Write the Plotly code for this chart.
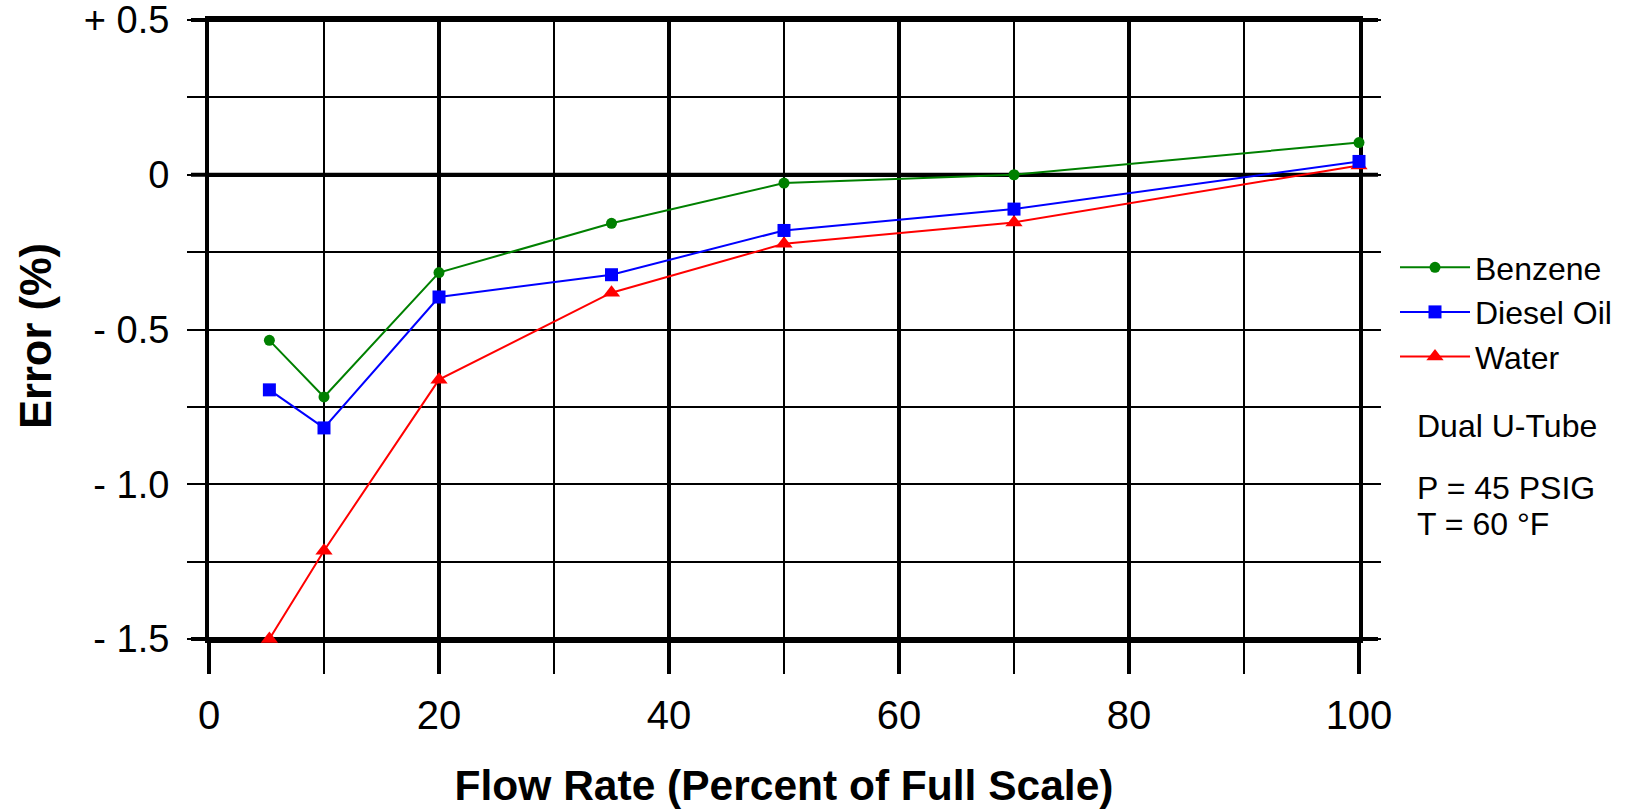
import plotly.graph_objects as go

# ---- data ----
flow = [5.25, 10, 20, 35, 50, 70, 100]
benzene = [-0.535, -0.718, -0.316, -0.157, -0.027, 0.0, 0.104]
diesel = [-0.695, -0.818, -0.395, -0.323, -0.18, -0.111, 0.043]
water = [-1.5, -1.215, -0.662, -0.381, -0.223, -0.154, 0.03]

y_tickvals = [0.5, 0, -0.5, -1.0, -1.5]
y_ticktext = ["+ 0.5", "0", "- 0.5", "- 1.0", "- 1.5"]
x_tickvals = [0, 20, 40, 60, 80, 100]
x_ticktext = ["0", "20", "40", "60", "80", "100"]

FONT = "Liberation Sans, Arial, sans-serif"

fig = go.Figure()
# drawn in reverse so that the earlier series sit on top; legend reversed
fig.add_trace(go.Scatter(x=flow, y=water, name="Water", mode="lines+markers",
                         line=dict(color="#ff0000", width=2),
                         marker=dict(symbol="triangle-up", size=15, color="#ff0000"),
                         cliponaxis=False))
fig.add_trace(go.Scatter(x=flow, y=diesel, name="Diesel Oil", mode="lines+markers",
                         line=dict(color="#0000ff", width=2),
                         marker=dict(symbol="square", size=13, color="#0000ff"),
                         cliponaxis=False))
fig.add_trace(go.Scatter(x=flow, y=benzene, name="Benzene", mode="lines+markers",
                         line=dict(color="#008000", width=2),
                         marker=dict(symbol="circle", size=11, color="#008000"),
                         cliponaxis=False))

L, R, T, B = 209, 267, 20, 170
W, H = 1626, 809
pw = W - L - R
ph = H - T - B

fig.update_layout(
    width=W, height=H,
    margin=dict(l=L, r=R, t=T, b=B, pad=0, autoexpand=False),
    paper_bgcolor="white", plot_bgcolor="white",
    font=dict(family=FONT, color="black"),
    showlegend=True,
    legend=dict(
        x=(1395 - L) / pw, y=1 - (240 - T) / ph, xanchor="left", yanchor="top",
        traceorder="reversed", font=dict(size=32, family=FONT),
        bgcolor="rgba(0,0,0,0)", itemwidth=70,
    ),
    xaxis=dict(
        range=[0, 100], tickmode="array", tickvals=x_tickvals, ticktext=x_ticktext,
        showgrid=True, gridcolor="black", gridwidth=4,
        ticks="outside", ticklen=31, tickwidth=4, tickcolor="black",
        showline=True, linecolor="black", linewidth=4, mirror=True,
        zeroline=False, tickfont=dict(size=40), ticklabelstandoff=7,
        ticklabeloverflow="allow", automargin=False, layer="below traces",
        minor=dict(dtick=10, tick0=0, showgrid=True, gridcolor="black", gridwidth=2,
                   ticks="outside", ticklen=31, tickwidth=2, tickcolor="black"),
        title=dict(text="<b>Flow Rate (Percent of Full Scale)</b>",
                   font=dict(size=42.5), standoff=35),
    ),
    xaxis2=dict(
        range=[0, 100], overlaying="x", side="top", anchor="y",
        tickmode="array", tickvals=x_tickvals, showticklabels=False,
        showgrid=False, zeroline=False, showline=False, automargin=False,
        ticks="outside", ticklen=6, tickwidth=4, tickcolor="black",
        layer="below traces",
        minor=dict(dtick=10, tick0=0, ticks="outside", ticklen=6, tickwidth=2,
                   tickcolor="black"),
    ),
    yaxis=dict(
        range=[-1.5, 0.5], tickmode="array", tickvals=y_tickvals, ticktext=y_ticktext,
        showgrid=True, gridcolor="black", gridwidth=2,
        zeroline=True, zerolinecolor="black", zerolinewidth=4,
        ticks="outside", ticklen=18, tickwidth=2, tickcolor="black",
        showline=True, linecolor="black", linewidth=4, mirror="allticks",
        tickfont=dict(size=38), ticklabelstandoff=10,
        ticklabeloverflow="allow", automargin=False, layer="below traces",
        minor=dict(dtick=0.25, tick0=0, showgrid=True, gridcolor="black", gridwidth=2,
                   ticks="outside", ticklen=18, tickwidth=2, tickcolor="black"),
    ),
)

# y-axis title placed precisely
fig.add_annotation(text="<b>Error (%)</b>", textangle=-90, xref="paper", yref="paper",
                   x=(36 - L) / pw, y=1 - (336 - T) / ph, xanchor="center",
                   yanchor="middle", showarrow=False,
                   font=dict(size=43.5, family=FONT, color="black"))

# thick horizontal frame/zero lines extending past the plot edges like the ticks
ext_l = -18 / pw
ext_r = 1 + 19 / pw
for yref, yv in [("paper", 1), ("paper", 0), ("y", 0)]:
    fig.add_shape(type="line", xref="paper", yref=yref, x0=ext_l, x1=ext_r,
                  y0=yv, y1=yv, layer="below", line=dict(color="black", width=4))

notes = [("Dual U-Tube", 426), ("P = 45 PSIG", 488), ("T = 60 °F", 524)]
for txt, ypx in notes:
    fig.add_annotation(text=txt, xref="paper", yref="paper",
                       x=(1415 - L) / pw, y=1 - (ypx - T) / ph,
                       xanchor="left", yanchor="middle", showarrow=False,
                       font=dict(size=32, family=FONT, color="black"))

fig.write_html("out.html")
